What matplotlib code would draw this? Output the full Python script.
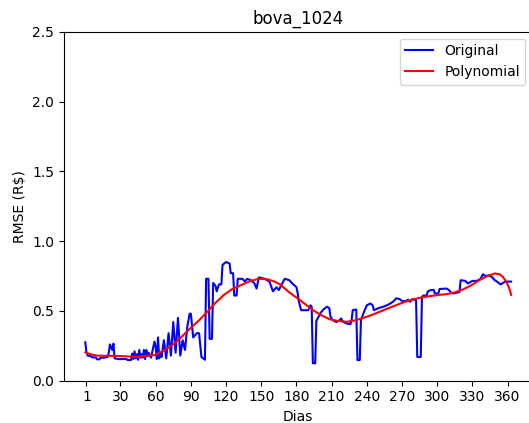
import numpy as np
import matplotlib
matplotlib.use("Agg")
import matplotlib.pyplot as plt

# Erro diario (RMSE)
dias_orig = [0, 1, 2, 5, 6, 9, 10, 12, 13, 16, 19, 20, 21, 23, 24, 25, 28, 35, 36, 39,
             40, 41, 42, 43, 44, 45, 46, 47, 48, 49, 50, 51, 52, 53, 54, 56, 58, 59, 60, 61,
             62, 63, 64, 65, 67, 69, 71, 73, 75, 77, 79, 81, 83, 85, 87, 89, 90, 92, 95, 97,
             99, 102, 103, 105, 106, 108, 109, 111, 112, 114, 116, 117, 120, 123, 124, 126, 127, 129, 130, 134,
             136, 138, 141, 144, 146, 148, 153, 157, 160, 163, 165, 170, 174, 176, 180, 181, 182, 184, 190, 192,
             193, 194, 196, 197, 201, 203, 206, 208, 209, 211, 214, 217, 218, 220, 223, 226, 227, 228, 231, 232,
             234, 235, 237, 240, 243, 245, 246, 250, 254, 257, 260, 263, 265, 268, 270, 273, 275, 277, 279, 282,
             283, 286, 287, 288, 291, 292, 295, 297, 298, 301, 302, 308, 310, 312, 314, 319, 320, 324, 326, 328,
             330, 334, 337, 339, 341, 344, 347, 349, 351, 354, 356, 358, 363]
rmse_orig = [0.275, 0.205, 0.18, 0.175, 0.167, 0.167, 0.153, 0.153, 0.165, 0.165, 0.17, 0.2, 0.26, 0.22, 0.265, 0.16, 0.155, 0.155, 0.148, 0.148,
             0.195, 0.155, 0.21, 0.16, 0.19, 0.15, 0.22, 0.165, 0.19, 0.165, 0.22, 0.155, 0.22, 0.175, 0.2, 0.165, 0.24, 0.28, 0.24, 0.155,
             0.31, 0.16, 0.2, 0.17, 0.29, 0.16, 0.34, 0.18, 0.42, 0.2, 0.45, 0.18, 0.29, 0.22, 0.39, 0.48, 0.48, 0.31, 0.34, 0.34,
             0.17, 0.15, 0.73, 0.73, 0.30, 0.30, 0.70, 0.68, 0.64, 0.69, 0.69, 0.83, 0.85, 0.84, 0.77, 0.77, 0.61, 0.61, 0.73, 0.73,
             0.71, 0.73, 0.72, 0.70, 0.66, 0.74, 0.73, 0.71, 0.64, 0.67, 0.65, 0.73, 0.72, 0.70, 0.67, 0.63, 0.57, 0.505, 0.505, 0.54,
             0.53, 0.125, 0.125, 0.43, 0.49, 0.51, 0.53, 0.52, 0.46, 0.434, 0.42, 0.434, 0.446, 0.42, 0.41, 0.405, 0.43, 0.505, 0.51, 0.148,
             0.148, 0.434, 0.48, 0.54, 0.553, 0.54, 0.505, 0.52, 0.53, 0.54, 0.553, 0.57, 0.59, 0.585, 0.57, 0.57, 0.58, 0.565, 0.585, 0.575,
             0.17, 0.17, 0.6, 0.61, 0.61, 0.64, 0.65, 0.65, 0.625, 0.625, 0.657, 0.66, 0.65, 0.63, 0.625, 0.635, 0.72, 0.715, 0.697, 0.705,
             0.715, 0.715, 0.73, 0.763, 0.75, 0.755, 0.74, 0.72, 0.71, 0.69, 0.70, 0.71, 0.71]

# Curva do ajuste polinomial
dias_poly = [0, 5, 10, 20, 29, 44, 59, 67, 74, 81, 88, 96, 103, 110, 118, 125, 132, 140, 148, 155,
             162, 166, 174, 183, 188, 194, 201, 208, 215, 223, 230, 237, 244, 251, 258, 265, 272, 279, 286, 294,
             301, 308, 315, 322, 329, 336, 343, 349, 353, 356, 358, 360, 362, 363]
rmse_poly = [0.203, 0.188, 0.18, 0.178, 0.177, 0.17, 0.184, 0.215, 0.255, 0.305, 0.363, 0.425, 0.484, 0.55, 0.613, 0.655, 0.682, 0.712, 0.73, 0.727,
             0.708, 0.69, 0.632, 0.577, 0.545, 0.506, 0.47, 0.441, 0.428, 0.422, 0.432, 0.45, 0.47, 0.494, 0.518, 0.541, 0.563, 0.582, 0.595, 0.606,
             0.614, 0.62, 0.633, 0.654, 0.683, 0.72, 0.75, 0.768, 0.763, 0.744, 0.72, 0.69, 0.65, 0.615]

xticks = [1, 30, 60, 90, 120, 150, 180, 210, 240, 270, 300, 330, 360]
yticks = [0.0, 0.5, 1.0, 1.5, 2.0, 2.5]

fig = plt.figure(figsize=(5.29, 4.23), dpi=100)
ax = fig.add_axes([0.121, 0.1, 0.8854, 0.825])

ax.plot(dias_orig, rmse_orig, color='blue', label='Original')
ax.plot(dias_poly, rmse_poly, color='red', label='Polynomial')

ax.set_title('bova_1024')
ax.set_xlabel('Dias')
ax.set_ylabel('RMSE (R\\$)')
ax.set_xticks(xticks)
ax.set_yticks(yticks)
ax.set_ylim(0, 2.5)
ax.legend(loc='upper right')

fig.savefig('out.png', dpi=100)
